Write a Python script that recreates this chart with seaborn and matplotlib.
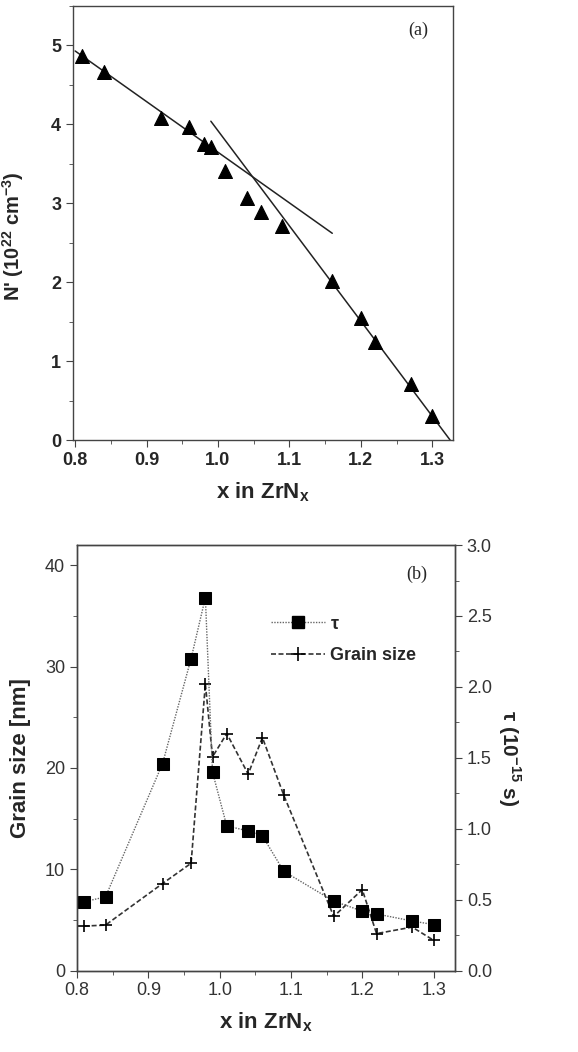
import numpy as np
import pandas as pd
import seaborn as sns
import matplotlib.pyplot as plt
from matplotlib.ticker import MultipleLocator
from matplotlib.lines import Line2D

# (a) carrier density vs composition
x_a = [0.81, 0.84, 0.92, 0.96, 0.98, 0.99, 1.01, 1.04, 1.06, 1.09, 1.16, 1.20, 1.22, 1.27, 1.30]
n_a = [4.87, 4.66, 4.08, 3.97, 3.75, 3.71, 3.41, 3.07, 2.89, 2.71, 2.01, 1.55, 1.24, 0.71, 0.30]

# two linear fits (end points)
fit1_x = [0.80, 1.16]
fit1_y = [4.93, 2.62]
fit2_x = [0.99, 1.325]
fit2_y = [4.04, 0.0]

# (b) grain size and relaxation time
x_b = [0.81, 0.84, 0.92, 0.96, 0.98, 0.99, 1.01, 1.04, 1.06, 1.09, 1.16, 1.20, 1.22, 1.27, 1.30]
tau = [0.486, 0.52, 1.46, 2.20, 2.63, 1.40, 1.02, 0.985, 0.95, 0.70, 0.49, 0.42, 0.40, 0.35, 0.325]
grain = [4.4, 4.5, 8.6, 10.6, 28.3, 21.1, 23.4, 19.4, 23.0, 17.3, 5.35, 8.0, 3.66, 4.3, 3.0]

sns.set_style("ticks")
plt.rcParams['font.family'] = ['Liberation Sans', 'DejaVu Sans']
plt.rcParams['mathtext.fontset'] = 'custom'
plt.rcParams['mathtext.rm'] = 'Liberation Sans'
plt.rcParams['mathtext.bf'] = 'Liberation Sans:bold'
plt.rcParams['xtick.direction'] = 'out'
plt.rcParams['ytick.direction'] = 'out'

fig = plt.figure(figsize=(5.78, 10.52), dpi=100)
ax1 = fig.add_axes([0.1263, 0.5817, 0.6574, 0.4126])
ax2 = fig.add_axes([0.1332, 0.0773, 0.6540, 0.4046])

dfa = pd.DataFrame({'x': x_a, 'n': n_a})
sns.scatterplot(data=dfa, x='x', y='n', marker='^', s=100, color='black', edgecolor='black', ax=ax1, zorder=3)
sns.lineplot(x=fit1_x, y=fit1_y, color='#222222', lw=1.1, ax=ax1)
sns.lineplot(x=fit2_x, y=fit2_y, color='#222222', lw=1.1, ax=ax1)

ax1.set_xlim(0.797, 1.329)
ax1.set_ylim(0, 5.5)
ax1.xaxis.set_minor_locator(MultipleLocator(0.05))
ax1.yaxis.set_major_locator(MultipleLocator(1))
ax1.yaxis.set_minor_locator(MultipleLocator(0.5))
ax1.set_xticks([0.8, 0.9, 1.0, 1.1, 1.2, 1.3])
ax1.set_xticklabels(['0.8', '0.9', '1.0', '1.1', '1.2', '1.3'])
for lab in ax1.get_xticklabels() + ax1.get_yticklabels():
    lab.set_fontweight('bold')
    lab.set_fontsize(13)
ax1.set_xlabel(r'x in ZrN$_\mathbf{x}$', fontsize=16, fontweight='bold', labelpad=8)
ax1.set_ylabel(r"N' (10$^{\mathbf{22}}$ cm$^{\mathbf{-3}}$)", fontsize=14.5, fontweight='bold')
ax1.yaxis.set_label_coords(-0.125, 0.47)
ax1.text(0.908, 0.945, '(a)', transform=ax1.transAxes, fontsize=13, family='Liberation Serif', ha='center', va='center')

# bottom panel
dfb = pd.DataFrame({'x': x_b, 'tau': tau, 'grain': grain})
ax3 = ax2.twinx()
sns.lineplot(data=dfb, x='x', y='grain', ax=ax2, color='#333333', lw=1.2, linestyle=(0, (3, 1.5)),
             marker='+', markersize=9, markeredgewidth=1.2, markeredgecolor='black')
sns.lineplot(data=dfb, x='x', y='tau', ax=ax3, color='#666666', lw=1.0, linestyle=(0, (1, 1)),
             marker='s', markersize=8, markerfacecolor='black', markeredgecolor='black')

ax2.set_xlim(0.8, 1.33)
ax2.set_ylim(0, 42)
ax3.set_ylim(0, 3.0)
ax2.set_xticks([0.8, 0.9, 1.0, 1.1, 1.2, 1.3])
ax2.set_xticklabels(['0.8', '0.9', '1.0', '1.1', '1.2', '1.3'])
ax2.xaxis.set_minor_locator(MultipleLocator(0.05))
ax2.yaxis.set_major_locator(MultipleLocator(10))
ax2.yaxis.set_minor_locator(MultipleLocator(5))
ax3.set_yticks([0.0, 0.5, 1.0, 1.5, 2.0, 2.5, 3.0])
ax3.set_yticklabels(['0.0', '0.5', '1.0', '1.5', '2.0', '2.5', '3.0'])
ax3.yaxis.set_minor_locator(MultipleLocator(0.25))
for lab in ax2.get_xticklabels() + ax2.get_yticklabels() + ax3.get_yticklabels():
    lab.set_fontsize(13)
    lab.set_color('#333333')
ax2.set_xlabel(r'x in ZrN$_\mathbf{x}$', fontsize=16, fontweight='bold', labelpad=8)
ax2.set_ylabel('Grain size [nm]', fontsize=16, fontweight='bold', labelpad=10)
ax3.set_ylabel(r'τ (10$^{\mathbf{-15}}$ s)', fontsize=15, fontweight='bold', rotation=270, labelpad=22)
ax2.text(0.90, 0.93, '(b)', transform=ax2.transAxes, fontsize=13, family='Liberation Serif', ha='center', va='center')

for ax in [ax1, ax2, ax3]:
    for sp in ax.spines.values():
        sp.set_visible(True)
        sp.set_color('#444444')
        sp.set_linewidth(1.0)
    ax.tick_params(which='major', length=5, color='#444444')
    ax.tick_params(which='minor', length=3, color='#444444')
ax1.tick_params(which='both', right=False, top=False)
ax2.tick_params(which='both', right=False, top=False)

handles = [Line2D([], [], color='#666666', lw=1.0, linestyle=(0, (1, 1)), marker='s', markersize=9,
                  markerfacecolor='black', markeredgecolor='black'),
           Line2D([], [], color='#333333', lw=1.2, linestyle=(0, (3, 1.5)), marker='+', markersize=10,
                  markeredgewidth=1.2, markeredgecolor='black')]
if ax2.get_legend() is not None:
    ax2.get_legend().remove()
leg = ax2.legend(handles, ['τ', 'Grain size'], loc='upper left', bbox_to_anchor=(0.47, 0.872),
                 frameon=False, handlelength=3.0, prop={'weight': 'bold', 'size': 13},
                 labelspacing=0.8, handletextpad=0.3)

fig.savefig('out.png', dpi=100)
